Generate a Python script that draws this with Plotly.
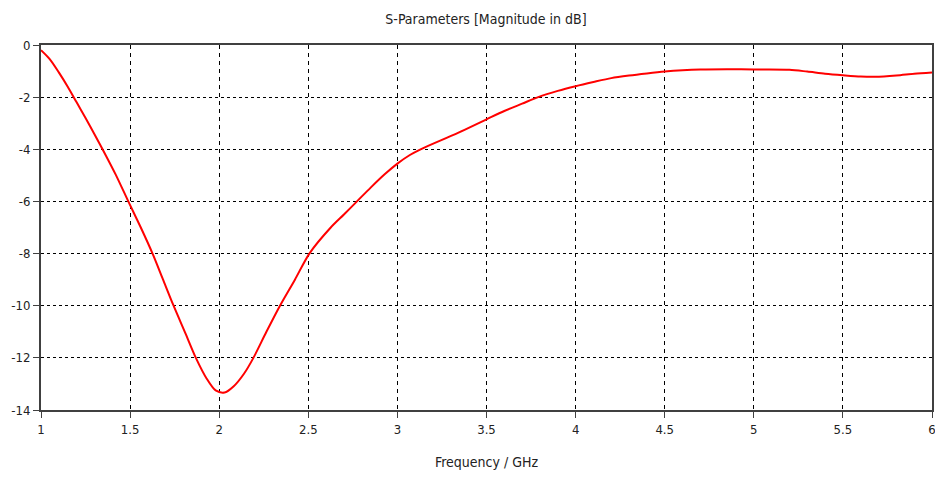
import plotly.graph_objects as go

freq = [1.0, 1.05, 1.1, 1.15, 1.2, 1.25, 1.3, 1.355, 1.42, 1.49, 1.56, 1.626, 1.685, 1.744,
        1.81, 1.869, 1.93, 1.98, 2.03, 2.08, 2.14, 2.192, 2.265, 2.341, 2.425, 2.506, 2.626,
        2.7, 2.78, 2.85, 2.93, 3.0, 3.07, 3.13, 3.34, 3.5, 3.6, 3.7, 3.79, 3.9, 4.0, 4.1,
        4.2, 4.3, 4.4, 4.5, 4.6, 4.7, 4.85, 5.0, 5.2, 5.3, 5.4, 5.5, 5.6, 5.68, 5.8, 5.9, 6.0]
s11_db = [-0.2, -0.55, -1.05, -1.6, -2.2, -2.8, -3.42, -4.12, -4.98, -6.0, -7.0, -8.0, -9.0, -10.0,
          -11.05, -12.0, -12.8, -13.25, -13.33, -13.1, -12.6, -12.0, -11.0, -10.0, -9.0, -8.0, -7.0,
          -6.5, -5.95, -5.47, -4.95, -4.55, -4.22, -4.0, -3.37, -2.85, -2.53, -2.25, -2.0, -1.76, -1.58, -1.42,
          -1.27, -1.17, -1.09, -1.02, -0.97, -0.94, -0.93, -0.94, -0.95, -1.02, -1.1, -1.16, -1.21, -1.22, -1.17, -1.1, -1.05]

x_ticks = [1, 1.5, 2, 2.5, 3, 3.5, 4, 4.5, 5, 5.5, 6]
x_labels = ["1", "1.5", "2", "2.5", "3", "3.5", "4", "4.5", "5", "5.5", "6"]
y_ticks = [0, -2, -4, -6, -8, -10, -12, -14]
y_labels = ["0", "-2", "-4", "-6", "-8", "-10", "-12", "-14"]

font_family = "DejaVu Sans Condensed, Liberation Sans, sans-serif"

fig = go.Figure()
fig.add_trace(go.Scatter(x=freq, y=s11_db, mode="lines",
                         line=dict(color="#ff0000", width=2, shape="spline", smoothing=0.8),
                         showlegend=False))

# the page body has an 8px default margin, so the figure is 8px smaller
fig.update_layout(
    width=935, height=470,
    margin=dict(l=33, r=11, t=37, b=68, autoexpand=False),
    paper_bgcolor="white", plot_bgcolor="white",
    font=dict(family=font_family, size=13, color="#222222"),
    title=dict(text="S-Parameters [Magnitude in dB]", x=(486 - 8) / 935, xanchor="center",
               y=1 - 11 / 470, yanchor="middle", font=dict(size=14, color="#222222"),
               automargin=False),
)
fig.update_xaxes(
    range=[1, 6], tickvals=x_ticks, ticktext=x_labels, automargin=False,
    showgrid=True, gridcolor="#000000", gridwidth=1, griddash="4px,4px",
    showline=True, linecolor="#404040", linewidth=2, mirror=True,
    ticks="outside", ticklen=6, tickcolor="#404040",
    zeroline=False,
    title=dict(text="Frequency / GHz", standoff=22, font=dict(size=14)),
)
fig.update_yaxes(
    range=[-14, 0], tickvals=y_ticks, ticktext=y_labels, automargin=False,
    showgrid=True, gridcolor="#000000", gridwidth=1, griddash="3px,3px",
    showline=True, linecolor="#404040", linewidth=2, mirror=True,
    ticks="outside", ticklen=6, tickcolor="#404040",
    zeroline=False,
)
fig.write_html("out.html")
